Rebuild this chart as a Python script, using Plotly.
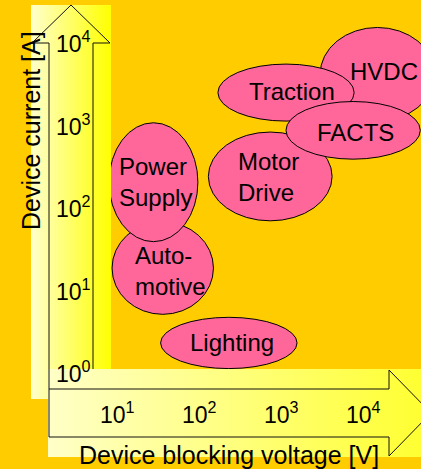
import numpy as np
import plotly.graph_objects as go

# ---- data ----
applications = ["HVDC", "Traction", "Motor<br>Drive", "FACTS", "Auto-<br>motive", "Power<br>Supply", "Lighting"]
volt_min = [3000, 170, 130, 1150, 8.7, 8.0, 34]       # V
volt_max = [75000, 7800, 4200, 50000, 150, 97, 1570]  # V
curr_min = [1100, 1100, 68, 380, 5.0, 38, 1.1]        # A
curr_max = [15000, 5400, 810, 1900, 66, 1050, 4.6]    # A
label_xshift = [7, 6, -2, 2, 8, 2, 3]
label_yshift = [3, 1, -1, -2, -3, 0, 0]

x_ticks = [1, 2, 3, 4]
x_tick_labels = ["10<sup>1</sup>", "10<sup>2</sup>", "10<sup>3</sup>", "10<sup>4</sup>"]
y_ticks = [0, 1, 2, 3, 4]
y_tick_labels = ["10<sup>0</sup>", "10<sup>1</sup>", "10<sup>2</sup>", "10<sup>3</sup>", "10<sup>4</sup>"]

x_title = "Device blocking voltage [V]"
y_title = "Device current [A]"

W, H = 421, 469
BG = "#FFCC00"
PINK = "#FF6699"
FONT = "Liberation Sans, Arial, sans-serif"

fig = go.Figure()

# decorative arrows on a pixel-unit overlay axis (x2/y2)
vx = [31, 111, 111, 31, 31]
vy = [5, 5, 399, 399, 5]
fig.add_trace(go.Scatter(x=vx, y=vy, xaxis="x2", yaxis="y2", mode="none", fill="toself",
                         fillgradient=dict(type="horizontal",
                                           colorscale=[[0, "#FFFFCC"], [1, "#FFFF00"]]),
                         hoverinfo="skip", showlegend=False))
fig.add_trace(go.Scatter(x=[49, 49, 32, 71, 110, 93, 93], y=[389, 43, 43, 5, 43, 43, 369],
                         xaxis="x2", yaxis="y2", mode="lines",
                         line=dict(color="#111111", width=1), hoverinfo="skip", showlegend=False))
hx = [48, 421, 421, 48, 48]
hy = [369, 369, 457, 457, 369]
fig.add_trace(go.Scatter(x=hx, y=hy, xaxis="x2", yaxis="y2", mode="none", fill="toself",
                         fillgradient=dict(type="horizontal",
                                           colorscale=[[0, "#FFFFC8"], [1, "#FFFF33"]]),
                         hoverinfo="skip", showlegend=False))
fig.add_trace(go.Scatter(x=[49, 389, 389, 431, 389, 389, 49, 49],
                         y=[389, 389, 370, 413, 456, 437, 437, 369],
                         xaxis="x2", yaxis="y2", mode="lines",
                         line=dict(color="#111111", width=1), hoverinfo="skip", showlegend=False))

# ellipses (data axes are log10 of V and A)
shapes = []
for i, name in enumerate(applications):
    shapes.append(dict(type="circle", xref="x", yref="y", layer="below",
                       x0=np.log10(volt_min[i]), x1=np.log10(volt_max[i]),
                       y0=np.log10(curr_min[i]), y1=np.log10(curr_max[i]),
                       fillcolor=PINK, line=dict(color="black", width=1)))

annotations = []
for i, name in enumerate(applications):
    cx = (np.log10(volt_min[i]) + np.log10(volt_max[i])) / 2
    cy = (np.log10(curr_min[i]) + np.log10(curr_max[i])) / 2
    annotations.append(dict(x=cx, y=cy, xref="x", yref="y", text=name, showarrow=False,
                            align="left", xshift=label_xshift[i], yshift=label_yshift[i],
                            font=dict(family=FONT, size=24, color="black")))

for t, lab in zip(x_ticks, x_tick_labels):
    annotations.append(dict(x=t, y=413, xref="x", yref="y2", text=lab, showarrow=False,
                            font=dict(family=FONT, size=23, color="black")))
for t, lab in zip(y_ticks, y_tick_labels):
    annotations.append(dict(x=73, y=t, xref="x2", yref="y", text=lab, showarrow=False,
                            font=dict(family=FONT, size=23, color="black")))

annotations.append(dict(x=229, y=455, xref="x2", yref="y2", text=x_title, showarrow=False,
                        font=dict(family=FONT, size=25, color="black")))
annotations.append(dict(x=31, y=131, xref="x2", yref="y2", text=y_title, showarrow=False,
                        textangle=-90, font=dict(family=FONT, size=25, color="black")))

fig.update_layout(
    width=W, height=H, margin=dict(l=0, r=0, t=0, b=0),
    paper_bgcolor=BG, plot_bgcolor=BG,
    xaxis=dict(range=[-35 / 82, 386 / 82], visible=False, domain=[0, 1], fixedrange=True),
    yaxis=dict(range=[(372 - 469) / 82.5, 372 / 82.5], visible=False, domain=[0, 1], fixedrange=True),
    xaxis2=dict(range=[0, W], overlaying="x", visible=False, fixedrange=True),
    yaxis2=dict(range=[H, 0], overlaying="y", visible=False, fixedrange=True),
    shapes=shapes, annotations=annotations, showlegend=False,
)

fig.write_html("out.html", config=dict(displayModeBar=False),
               post_script="document.body.style.margin='0';document.body.style.overflow='hidden';")
